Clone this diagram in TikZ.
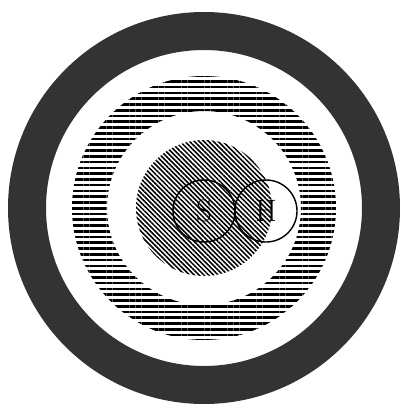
\documentclass[tikz,border=0pt]{standalone}
\usepackage{tikz}
\usetikzlibrary{patterns.meta}
\tikzstyle{darkring} = [
    fill=black!80,
    even odd rule
]
\tikzstyle{stripering} = [
    pattern={Lines[angle=0,distance=4.1pt,line width=1.9pt]},
    even odd rule
]
\tikzstyle{core} = [
    pattern={Lines[angle=-45,distance=2.4pt,line width=1.1pt]}
]
\tikzstyle{region} = [
    circle,
    draw=black,
    line width=1pt,
    minimum size=1.55cm,
    inner sep=0pt,
    font=\fontsize{22}{22}\selectfont
]

\begin{document}
\begin{tikzpicture}[x=0.025cm, y=-0.025cm]
    \useasboundingbox (0,0) rectangle (401,410);
    \coordinate (c) at (204,208);

    % Rings
    \fill[darkring] (c) circle (196) (c) circle (158);
    \fill[stripering] (c) circle (132) (c) circle (97);
    \fill[core] (c) circle (68);

    % Regions
    \node[region] (s) at (204,211) {S};
    \node[region] (h) at (266,211) {\raisebox{-2pt}{H}};
\end{tikzpicture}
\end{document}
